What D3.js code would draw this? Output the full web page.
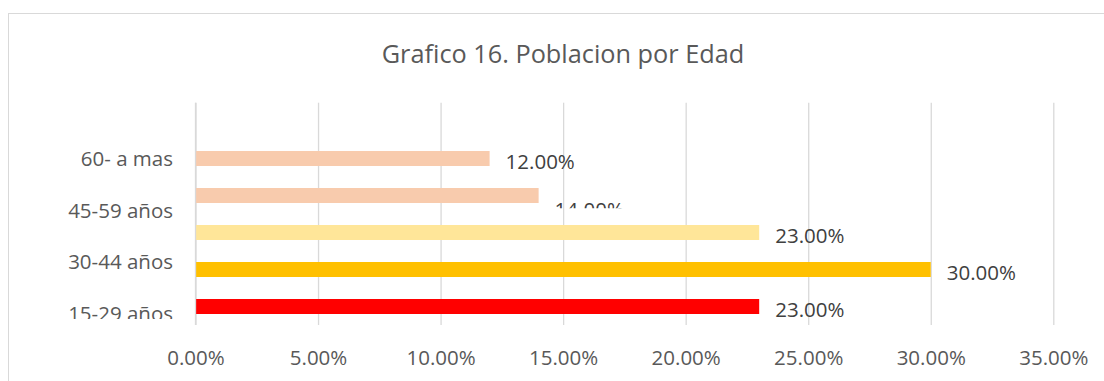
<!DOCTYPE html>
<html>
<head>
<meta charset="utf-8">
<script src="https://cdn.jsdelivr.net/npm/d3@7"></script>
<style>
  html, body { margin: 0; padding: 0; background: #fff; }
  svg { display: block; font-family: "Open Sans", sans-serif; }
</style>
</head>
<body>
<svg id="chart" width="1104" height="381"></svg>
<script>
// Population shares by age group
const title = "Grafico 16. Poblacion por Edad";
const categories = ["60- a mas", "45-59 años", "30-44 años", "15-29 años"];
const barValues = [0.12, 0.14, 0.23, 0.30, 0.23];
const valueLabels = ["12.00%", "14.00%", "23.00%", "30.00%", "23.00%"];
const tickValues = [0, 0.05, 0.10, 0.15, 0.20, 0.25, 0.30, 0.35];
const tickLabels = ["0.00%", "5.00%", "10.00%", "15.00%", "20.00%", "25.00%", "30.00%", "35.00%"];

// fills for each bar, top to bottom
const palette = ["#F8CBAD", "#F8CBAD", "#FFE699", "#FFC000", "#FF0000"];

const svg = d3.select("#chart");
const W = 1104, H = 381;

const plot = { left: 195.5, right: 1053.3, top: 102.7, bottom: 325 };

// chart frame (extends past the right/bottom of the view)
svg.append("rect")
  .attr("x", 8.5).attr("y", 13.5)
  .attr("width", 1200).attr("height", 500)
  .attr("fill", "#fff").attr("stroke", "#D9D9D9").attr("stroke-width", 1);

// title
svg.append("text")
  .attr("x", 563).attr("y", 63.3)
  .attr("text-anchor", "middle")
  .attr("font-size", 25.3)
  .attr("fill", "#595959")
  .text(title);

const x = d3.scaleLinear().domain([0, 0.35]).range([plot.left, plot.right]);

const y = d3.scaleBand()
  .domain(d3.range(barValues.length))
  .range([140, plot.bottom])
  .paddingInner(22 / 37)
  .paddingOuter(11 / 37);

// category labels sit on their own evenly spaced rows
const yCat = d3.scalePoint().domain(categories).range([166, 320.5]);

// vertical gridlines
const xAxis = d3.axisBottom(x)
  .tickValues(tickValues)
  .tickSize(-(plot.bottom - plot.top))
  .tickFormat((d, i) => tickLabels[i]);

const gx = svg.append("g")
  .attr("transform", `translate(0,${plot.bottom})`)
  .call(xAxis);
gx.select(".domain").remove();
gx.selectAll(".tick line")
  .attr("stroke", "#D9D9D9").attr("stroke-width", 1.3);
gx.selectAll(".tick text")
  .attr("y", 0).attr("dy", 0)
  .attr("transform", `translate(0,${365 - plot.bottom})`)
  .attr("font-size", 20.5)
  .attr("font-family", "Open Sans, sans-serif")
  .attr("fill", "#595959");

// bars
svg.append("g").selectAll("rect")
  .data(barValues)
  .join("rect")
  .attr("x", x(0))
  .attr("y", (d, i) => y(i))
  .attr("width", d => x(d) - x(0))
  .attr("height", y.bandwidth())
  .attr("fill", (d, i) => palette[i]);

// left axis line
svg.append("line")
  .attr("x1", x(0)).attr("x2", x(0))
  .attr("y1", plot.top).attr("y2", plot.bottom)
  .attr("stroke", "#D9D9D9").attr("stroke-width", 1.3);

// clipping regions for the overflowing labels
const defs = svg.append("defs");
defs.append("clipPath").attr("id", "catClip")
  .append("rect").attr("x", 0).attr("y", 0).attr("width", 190).attr("height", 319);
defs.append("clipPath").attr("id", "lblClip")
  .append("rect").attr("x", 0).attr("y", 0).attr("width", W).attr("height", 208.3);

// category labels
svg.append("g").attr("clip-path", "url(#catClip)")
  .selectAll("text")
  .data(categories)
  .join("text")
  .attr("x", 173)
  .attr("y", d => yCat(d))
  .attr("text-anchor", "end")
  .attr("font-size", 20.5)
  .attr("fill", "#595959")
  .text(d => d);

// value labels; the second one is pushed down and cut off
const labelShift = [0, 11.5, 0, 0, 0];
const lbl = svg.append("g");
barValues.forEach((v, i) => {
  const t = lbl.append("text")
    .attr("x", x(v) + 16)
    .attr("y", y(i) + y.bandwidth() / 2 + 10 + labelShift[i])
    .attr("font-size", 20.5)
    .attr("fill", "#404040")
    .text(valueLabels[i]);
  if (labelShift[i]) t.attr("clip-path", "url(#lblClip)");
});
</script>
</body>
</html>
